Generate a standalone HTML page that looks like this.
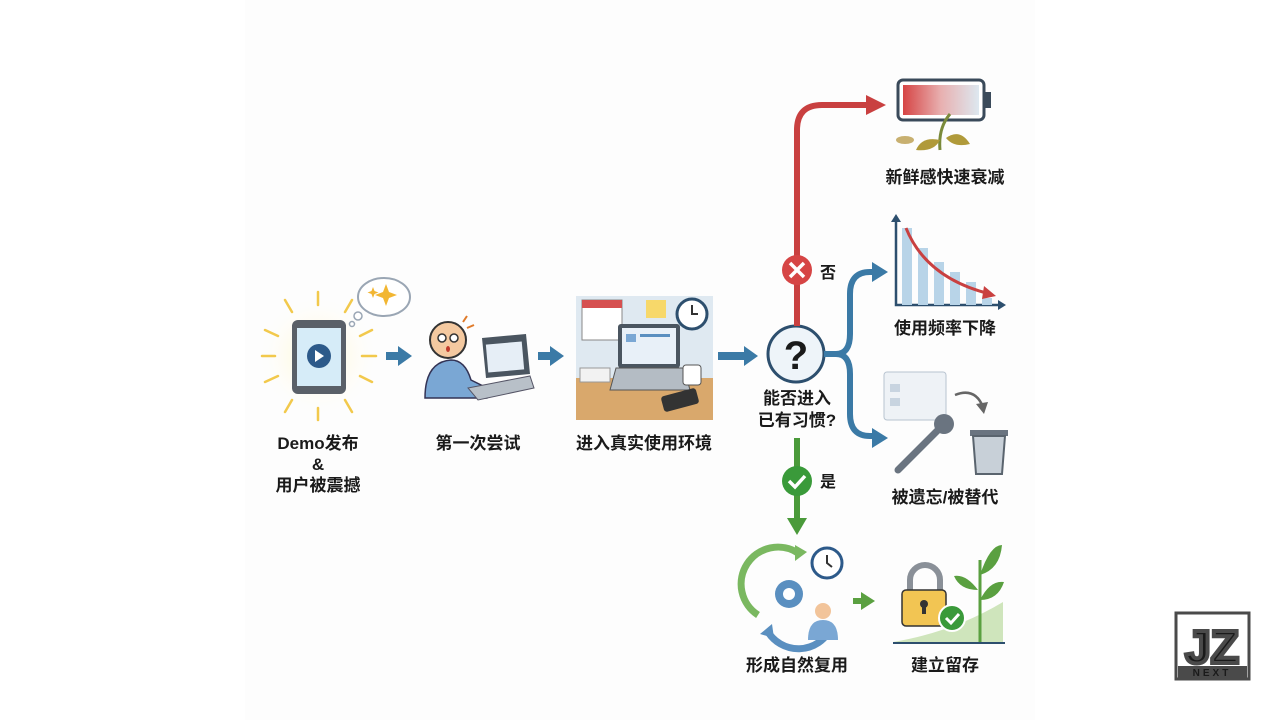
<!DOCTYPE html>
<html><head><meta charset="utf-8"><style>
html,body{margin:0;padding:0;background:#fff;}
svg{display:block}
text{font-family:"Liberation Sans","Noto Sans CJK SC",sans-serif;font-weight:bold;fill:#1a1a1a;}
</style></head><body>
<svg width="1280" height="720" viewBox="0 0 1280 720" xmlns="http://www.w3.org/2000/svg">
<defs>
<radialGradient id="glow" cx="50%" cy="50%" r="50%"><stop offset="0" stop-color="#fff6c8"/><stop offset="1" stop-color="#fff" stop-opacity="0"/></radialGradient>
<linearGradient id="bat" x1="0" x2="1"><stop offset="0" stop-color="#d64545"/><stop offset="0.5" stop-color="#e8b0b0"/><stop offset="1" stop-color="#dde8f0"/></linearGradient>
</defs>
<rect x="245" y="0" width="790" height="720" fill="#fdfdfd"/>

<circle cx="318" cy="356" r="62" fill="url(#glow)"/>
<g stroke="#f2c94c" stroke-width="2.5" stroke-linecap="round">
<line x1="318" y1="292" x2="318" y2="305"/><line x1="318" y1="408" x2="318" y2="420"/>
<line x1="262" y1="356" x2="275" y2="356"/><line x1="362" y1="356" x2="376" y2="356"/>
<line x1="285" y1="300" x2="292" y2="312"/><line x1="352" y1="300" x2="345" y2="312"/>
<line x1="285" y1="412" x2="292" y2="400"/><line x1="352" y1="412" x2="345" y2="400"/>
<line x1="265" y1="330" x2="278" y2="336"/><line x1="372" y1="330" x2="360" y2="336"/>
<line x1="265" y1="382" x2="278" y2="376"/><line x1="372" y1="382" x2="360" y2="376"/>
</g>
<rect x="292" y="320" width="54" height="74" rx="6" fill="#5a6068"/>
<rect x="297" y="328" width="44" height="58" fill="#d6ecf8"/>
<circle cx="319" cy="356" r="12" fill="#2d5a8a"/>
<path d="M315 350 L324 356 L315 362Z" fill="#fff"/>
<ellipse cx="384" cy="297" rx="26" ry="19" fill="#fff" stroke="#9aa6b4" stroke-width="2"/>
<circle cx="358" cy="316" r="4" fill="#fff" stroke="#9aa6b4" stroke-width="1.5"/>
<circle cx="352" cy="324" r="2.5" fill="#fff" stroke="#9aa6b4" stroke-width="1.5"/>
<path d="M386 284 l3 8 8 3 -8 3 -3 8 -3 -8 -8 -3 8 -3z" fill="#f2b632"/>
<path d="M373 287 l1.5 4 4 1.5 -4 1.5 -1.5 4 -1.5 -4 -4 -1.5 4 -1.5z" fill="#f2b632"/>

<g fill="#3b7aa6">
<path d="M386 352 h12 v-6 l14 10 -14 10 v-6 h-12z"/>
<path d="M538 352 h12 v-6 l14 10 -14 10 v-6 h-12z"/>
<path d="M718 352 h26 v-6 l14 10 -14 10 v-6 h-26z"/>
</g>

<circle cx="448" cy="340" r="18" fill="#f4c9a0" stroke="#333" stroke-width="2"/>
<circle cx="442" cy="338" r="4" fill="#fff" stroke="#333" stroke-width="1.5"/><circle cx="454" cy="338" r="4" fill="#fff" stroke="#333" stroke-width="1.5"/>
<ellipse cx="448" cy="349" rx="2" ry="3" fill="#c0392b"/>
<g stroke="#e07b2a" stroke-width="2"><line x1="463" y1="322" x2="467" y2="316"/><line x1="467" y1="328" x2="474" y2="325"/></g>
<path d="M425 398 q0 -36 26 -38 q14 0 20 20 l20 10 l-4 8z" fill="#7aa7d4" stroke="#335" stroke-width="1.5"/>
<path d="M482 338 l44 -4 4 40 -44 4z" fill="#4a5560"/>
<rect x="487" y="343" width="36" height="28" fill="#e6eef6" transform="rotate(-5 505 357)"/>
<path d="M468 388 l62 -12 l4 12 l-56 12z" fill="#b8c0c8" stroke="#556" stroke-width="1"/>

<rect x="576" y="296" width="137" height="124" fill="#dfe9f1"/>
<rect x="576" y="378" width="137" height="42" fill="#d9a86c"/>
<rect x="582" y="300" width="40" height="40" fill="#fff" stroke="#888"/>
<rect x="582" y="300" width="40" height="8" fill="#d65050"/>
<rect x="646" y="300" width="20" height="18" fill="#f7d86a"/>
<circle cx="692" cy="314" r="15" fill="#fff" stroke="#2d4f6e" stroke-width="3"/>
<path d="M692 305 v9 h6" stroke="#333" stroke-width="2" fill="none"/>
<rect x="618" y="324" width="62" height="44" rx="3" fill="#4a5560"/>
<rect x="622" y="328" width="54" height="36" fill="#e8f0f8"/>
<rect x="626" y="334" width="10" height="8" fill="#7aa7d4"/><rect x="640" y="334" width="30" height="3" fill="#5a8fc0"/>
<path d="M610 390 l80 0 l-6 -22 h-68z" fill="#b4bcc4" stroke="#555"/>
<rect x="683" y="365" width="18" height="20" rx="3" fill="#fff" stroke="#555"/>
<rect x="662" y="392" width="36" height="16" rx="3" fill="#333" transform="rotate(-15 680 400)"/>
<rect x="580" y="368" width="30" height="14" fill="#f2f2f2" stroke="#999"/>

<circle cx="796" cy="354" r="28" fill="#eef4f9" stroke="#2d4f6e" stroke-width="3"/>
<text x="796" y="369" font-size="40" text-anchor="middle" fill="#1f2d3d">?</text>

<path d="M797 326 V130 q0 -25 25 -25 H868" fill="none" stroke="#c94040" stroke-width="6"/>
<path d="M866 95 l20 10 -20 10z" fill="#c94040"/>
<circle cx="797" cy="270" r="15" fill="#d64545"/>
<path d="M790 263 l14 14 M804 263 l-14 14" stroke="#fff" stroke-width="3.5"/>
<text x="820" y="278" font-size="16">否</text>

<path d="M797 438 V524" stroke="#4a9a3a" stroke-width="6"/>
<path d="M787 518 l10 17 10 -17z" fill="#4a9a3a"/>
<circle cx="797" cy="481" r="15" fill="#3a9a3a"/>
<path d="M789 481 l6 6 10 -11" stroke="#fff" stroke-width="3.5" fill="none"/>
<text x="820" y="487" font-size="16">是</text>

<path d="M824 354 h12 q14 0 14 -20 v-40 q0 -22 20 -22 h6 M836 354 q14 0 14 20 v40 q0 22 20 22 h6" fill="none" stroke="#3b7aa6" stroke-width="6"/>
<path d="M872 262 l16 10 -16 10z M872 428 l16 10 -16 10z" fill="#3b7aa6"/>

<rect x="898" y="80" width="86" height="40" rx="5" fill="#fff" stroke="#3a4a5a" stroke-width="3"/>
<rect x="985" y="92" width="6" height="16" fill="#3a4a5a"/>
<rect x="903" y="85" width="76" height="30" fill="url(#bat)"/>
<path d="M940 150 q-2 -22 10 -36" stroke="#7a8a3a" stroke-width="3" fill="none"/>
<path d="M940 140 q-18 -4 -24 10 q18 2 24 -10z" fill="#b09a3a"/>
<path d="M946 138 q14 -10 24 6 q-16 4 -24 -6z" fill="#b09a3a"/>
<ellipse cx="905" cy="140" rx="9" ry="4" fill="#c8b070"/>

<path d="M896 220 V305 H1000" stroke="#2d4f6e" stroke-width="2.5" fill="none"/>
<path d="M891 222 l5 -8 5 8z M998 300 l8 5 -8 5z" fill="#2d4f6e"/>
<g fill="#b8d4e8"><rect x="902" y="228" width="10" height="77"/><rect x="918" y="248" width="10" height="57"/><rect x="934" y="262" width="10" height="43"/><rect x="950" y="272" width="10" height="33"/><rect x="966" y="282" width="10" height="23"/><rect x="982" y="298" width="10" height="7"/></g>
<path d="M906 228 q20 50 84 66" stroke="#c94040" stroke-width="3" fill="none"/>
<path d="M984 286 l12 10 -14 3z" fill="#c94040"/>

<rect x="884" y="372" width="62" height="48" rx="3" fill="#eef2f6" stroke="#b8c4d0"/>
<rect x="890" y="384" width="10" height="8" fill="#c8d4e0"/><rect x="890" y="398" width="10" height="8" fill="#c8d4e0"/>
<path d="M955 395 q20 -8 28 12" stroke="#666" stroke-width="2.5" fill="none"/>
<path d="M976 404 l8 10 4 -12z" fill="#666"/>
<path d="M898 470 l40 -40" stroke="#6a7480" stroke-width="7" stroke-linecap="round"/>
<circle cx="944" cy="424" r="10" fill="#6a7480"/>
<rect x="970" y="430" width="38" height="6" fill="#6a7480"/>
<path d="M973 436 h32 l-3 38 h-26z" fill="#c8d0d8" stroke="#5a646e" stroke-width="2"/>

<path d="M758 615 a36 36 0 0 1 40 -62" stroke="#7ab860" stroke-width="7" fill="none"/>
<path d="M795 545 l12 7 -12 9z" fill="#7ab860"/>
<path d="M830 630 a36 36 0 0 1 -62 2" stroke="#5a8fc0" stroke-width="7" fill="none"/>
<path d="M772 624 l-12 10 14 4z" fill="#5a8fc0"/>
<circle cx="789" cy="594" r="14" fill="#5a8fc0"/><circle cx="789" cy="594" r="6" fill="#fff"/>
<circle cx="827" cy="563" r="15" fill="#fff" stroke="#2d5a8a" stroke-width="3"/>
<path d="M827 555 v8 l5 4" stroke="#333" stroke-width="2" fill="none"/>
<circle cx="823" cy="611" r="8" fill="#f2c49a"/>
<path d="M808 640 q0 -20 15 -20 q15 0 15 20z" fill="#7aa7d4"/>
<path d="M853 598 h8 v-6 l14 9 -14 9 v-6 h-8z" fill="#5aa040"/>

<path d="M893 642 q60 -10 110 -40 V642z" fill="#cfe5bc"/>
<line x1="893" y1="643" x2="1005" y2="643" stroke="#2d4f6e" stroke-width="2"/>
<path d="M910 592 v-12 a15 15 0 0 1 30 0 v12" stroke="#8a9098" stroke-width="6" fill="none"/>
<rect x="902" y="590" width="44" height="36" rx="4" fill="#f2c553" stroke="#333" stroke-width="1.5"/>
<circle cx="924" cy="604" r="4" fill="#333"/><rect x="922" y="604" width="4" height="10" fill="#333"/>
<circle cx="952" cy="618" r="13" fill="#3a9a3a" stroke="#fff" stroke-width="2"/>
<path d="M946 618 l5 5 8 -9" stroke="#fff" stroke-width="3" fill="none"/>
<path d="M980 642 V560" stroke="#5aa040" stroke-width="3"/>
<path d="M980 575 q10 -30 22 -30 q-2 24 -22 30z M980 600 q10 -20 24 -18 q-6 18 -24 18z M978 590 q-12 -16 -24 -14 q6 14 24 14z" fill="#5aa040"/>

<g font-size="17" text-anchor="middle">
<text x="318" y="449">Demo发布</text>
<text x="318" y="470">&amp;</text>
<text x="318" y="491">用户被震撼</text>
<text x="478" y="449">第一次尝试</text>
<text x="644" y="449">进入真实使用环境</text>
<text x="797" y="404">能否进入</text>
<text x="797" y="426">已有习惯?</text>
<text x="945" y="183">新鲜感快速衰减</text>
<text x="945" y="334">使用频率下降</text>
<text x="945" y="503">被遗忘/被替代</text>
<text x="797" y="671">形成自然复用</text>
<text x="945" y="671">建立留存</text>
</g>

<rect x="1176" y="613" width="73" height="66" fill="#fff" stroke="#4a4a4a" stroke-width="3"/>
<text x="1212" y="663" font-size="46" text-anchor="middle" fill="#fff" stroke="#4a4a4a" stroke-width="4" style="font-family:'Liberation Sans',sans-serif">JZ</text>
<rect x="1178" y="666" width="69" height="12" fill="#4a4a4a"/>
<text x="1212" y="676" font-size="10" text-anchor="middle" fill="#fff" letter-spacing="3">NEXT</text>
</svg>
</body></html>
